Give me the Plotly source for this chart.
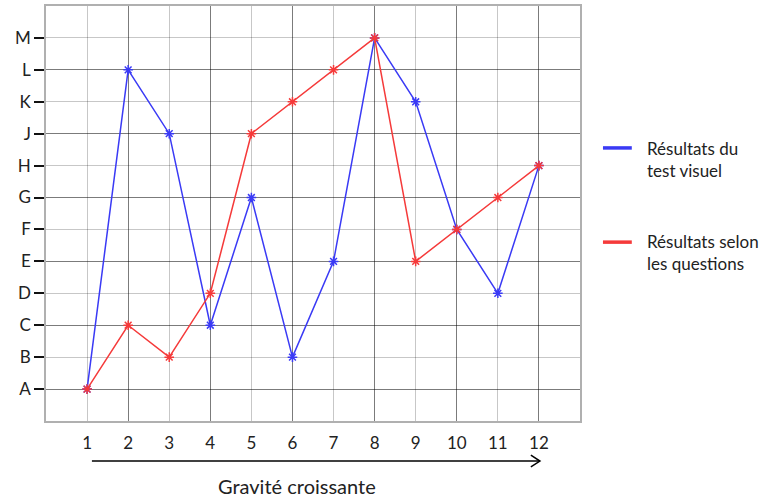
import plotly.graph_objects as go

x_vals = list(range(1, 13))
y_letters = ["A", "B", "C", "D", "E", "F", "G", "H", "J", "K", "L", "M"]
visual_test = ["A", "L", "J", "C", "G", "B", "E", "M", "K", "F", "D", "H"]
questions = ["A", "C", "B", "D", "J", "K", "L", "M", "E", "F", "G", "H"]
series_names = ["Résultats du<br>test visuel", "Résultats selon<br>les questions"]
series_colors = ["#3a3af5", "#f53a3a"]
x_title = "Gravité croissante"

pos = {l: i + 1 for i, l in enumerate(y_letters)}
FONT = "Lato, Carlito, 'Open Sans', sans-serif"

fig = go.Figure()
for vals, name, col in [(visual_test, series_names[0], series_colors[0]),
                        (questions, series_names[1], series_colors[1])]:
    fig.add_trace(go.Scatter(
        x=x_vals, y=[pos[v] for v in vals], mode="lines+markers", name=name,
        line=dict(color=col, width=1.5),
        marker=dict(symbol="asterisk-open", size=8, line=dict(color=col, width=1.5)),
        showlegend=False))

grid_light = "rgba(0,0,0,0.22)"
grid_dark = "rgba(0,0,0,0.38)"

fig.update_layout(
    width=763, height=497,
    margin=dict(l=46, r=183, t=6, b=76, autoexpand=False),
    paper_bgcolor="white", plot_bgcolor="white",
    font=dict(family=FONT, size=16, color="#222"),
    xaxis=dict(range=[0, 13], tickmode="array", tickvals=x_vals,
               ticktext=[str(v) for v in x_vals], automargin=False,
               showgrid=True, gridcolor=grid_light, gridwidth=1.3,
               minor=dict(tickvals=[v for v in x_vals if v % 2 == 0],
                          showgrid=True, gridcolor=grid_dark, gridwidth=1.3),
               showline=True, linecolor="#b0b0b0", linewidth=1.5, mirror=True,
               ticks="", ticklabelstandoff=6, zeroline=False,
               tickfont=dict(size=17)),
    yaxis=dict(range=[0, 13], tickmode="array", tickvals=list(range(1, 13)),
               ticktext=y_letters, automargin=False,
               showgrid=True, gridcolor=grid_light, gridwidth=1.3,
               minor=dict(tickvals=[v for v in range(1, 13) if v % 2 == 1],
                          showgrid=True, gridcolor=grid_dark, gridwidth=1.3),
               showline=True, linecolor="#b0b0b0", linewidth=1.5, mirror=True,
               ticks="outside", ticklen=10, tickcolor="#111", tickwidth=1.5,
               zeroline=False, tickfont=dict(size=17)),
)

# Axis arrow + title
fig.add_shape(type="line", xref="paper", yref="paper",
              x0=0.086, x1=0.925, y0=-0.0964, y1=-0.0964,
              line=dict(color="black", width=1.5))
fig.add_shape(type="path", xref="paper", yref="paper",
              path="M 0.908,-0.082 L 0.925,-0.0964 L 0.908,-0.1108",
              line=dict(color="black", width=1.5))
fig.add_annotation(text=x_title, xref="paper", yref="paper", x=0.470, y=-0.157,
                   showarrow=False, font=dict(size=20, color="#222"),
                   xanchor="center", yanchor="middle")

# Legend
for name, col, ly, ty in [(series_names[0], series_colors[0], 0.658, 0.631),
                          (series_names[1], series_colors[1], 0.431, 0.405)]:
    fig.add_shape(type="line", xref="paper", yref="paper",
                  x0=1.043, x1=1.097, y0=ly, y1=ly,
                  line=dict(color=col, width=3.5))
    fig.add_annotation(text=name, xref="paper", yref="paper", x=1.1217, y=ty,
                       showarrow=False, align="left", xanchor="left",
                       yanchor="middle", font=dict(size=17, color="#222"))

fig.write_html("out.html", post_script="document.body.style.margin='0';",
               config={"displayModeBar": False})
